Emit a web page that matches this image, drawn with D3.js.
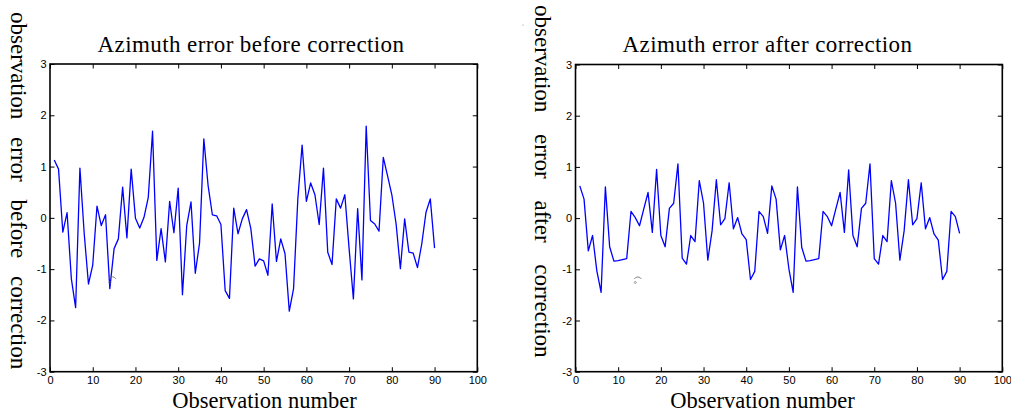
<!DOCTYPE html>
<html>
<head>
<meta charset="utf-8">
<script src="https://cdn.jsdelivr.net/npm/d3@7"></script>
<style>
  body { margin: 0; background: #fff; }
  svg { display: block; }
</style>
</head>
<body>
<div id="chart"></div>
<script>
// values, observation 1..90
var errBefore = [1.13, 0.95, -0.28, 0.10, -1.19, -1.75, 0.97, -0.30, -1.29, -0.92,
  0.23, -0.15, 0.06, -1.38, -0.60, -0.41, 0.60, -0.39, 0.95, -0.01,
  -0.20, 0.01, 0.40, 1.69, -0.83, -0.21, -0.86, 0.32, -0.29, 0.58,
  -1.50, -0.15, 0.31, -1.08, -0.49, 1.54, 0.63, 0.06, 0.04, -0.13,
  -1.42, -1.57, 0.19, -0.31, -0.02, 0.16, -0.21, -0.94, -0.80, -0.84,
  -1.12, 0.27, -0.85, -0.41, -0.70, -1.82, -1.38, 0.37, 1.42, 0.32,
  0.68, 0.45, -0.13, 0.97, -0.67, -0.91, 0.37, 0.19, 0.45, -0.60,
  -1.58, 0.18, -1.21, 1.79, -0.05, -0.12, -0.26, 1.18, 0.82, 0.45,
  -0.12, -0.99, -0.02, -0.67, -0.69, -0.97, -0.51, 0.11, 0.37, -0.59];

var errAfter = [0.63, 0.37, -0.64, -0.34, -1.03, -1.45, 0.61, -0.56, -0.84, -0.83,
  -0.81, -0.79, 0.13, 0.01, -0.15, 0.18, 0.50, -0.28, 0.95, -0.34,
  -0.56, 0.19, 0.29, 1.06, -0.78, -0.90, -0.34, -0.46, 0.73, 0.29,
  -0.82, -0.25, 0.75, -0.13, -0.01, 0.69, -0.21, 0.01, -0.31, -0.42,
  -1.20, -1.04, 0.13, 0.03, -0.30, 0.63, 0.37, -0.62, -0.34, -0.99,
  -1.45, 0.61, -0.57, -0.84, -0.83, -0.81, -0.79, 0.13, 0.03, -0.15,
  0.18, 0.50, -0.28, 0.94, -0.34, -0.56, 0.19, 0.29, 1.06, -0.79,
  -0.90, -0.34, -0.46, 0.73, 0.29, -0.82, -0.25, 0.75, -0.13, -0.01,
  0.69, -0.21, 0.01, -0.31, -0.43, -1.20, -1.04, 0.13, 0.03, -0.30];

var xTickVals = [0, 10, 20, 30, 40, 50, 60, 70, 80, 90, 100];
var yTickVals = [-3, -2, -1, 0, 1, 2, 3];
var titles = ["Azimuth error before correction", "Azimuth error after correction"];
var yLabels = ["observation error before correction", "observation error after correction"];
var xLabel = "Observation number";

var svg = d3.select("#chart")
  .append("svg")
    .attr("width", 1011)
    .attr("height", 414);

var panels = [
  {data: errBefore, title: titles[0], ylab: yLabels[0],
   left: 50, right: 477.3, top: 64, bottom: 371.7,
   titleX: 251, xlabX: 264.5, ylabX: 11, ylabY: 12, wordSp: 12},
  {data: errAfter, title: titles[1], ylab: yLabels[1],
   left: 575.5, right: 1002.3, top: 64.5, bottom: 371.7,
   titleX: 767.5, xlabX: 762.5, ylabX: 535, ylabY: 5, wordSp: 16}
];

// plain hyphen for negatives, like the original
var fmt = function (d) { return String(d); };

panels.forEach(function (p) {
  var x = d3.scaleLinear().domain([0, 100]).range([p.left, p.right]);
  var y = d3.scaleLinear().domain([-3, 3]).range([p.bottom, p.top]);
  var g = svg.append("g");

  // ticks on all four sides, pointing inward
  g.append("g")
    .attr("transform", "translate(0," + p.bottom + ")")
    .call(d3.axisBottom(x).tickValues(xTickVals).tickFormat(fmt).tickSizeInner(-4.5).tickSizeOuter(0).tickPadding(5))
    .call(function (a) { a.select(".domain").remove(); });
  g.append("g")
    .attr("transform", "translate(0," + p.top + ")")
    .call(d3.axisTop(x).tickValues(xTickVals).tickSizeInner(-4.5).tickSizeOuter(0).tickFormat(""))
    .call(function (a) { a.select(".domain").remove(); });
  g.append("g")
    .attr("transform", "translate(" + p.left + ",0)")
    .call(d3.axisLeft(y).tickValues(yTickVals).tickFormat(fmt).tickSizeInner(-4.5).tickSizeOuter(0).tickPadding(3.5))
    .call(function (a) { a.select(".domain").remove(); });
  g.append("g")
    .attr("transform", "translate(" + p.right + ",0)")
    .call(d3.axisRight(y).tickValues(yTickVals).tickSizeInner(-4.5).tickSizeOuter(0).tickFormat(""))
    .call(function (a) { a.select(".domain").remove(); });

  g.selectAll(".tick text")
    .attr("fill", "#000")
    .style("font-family", "'Liberation Sans', Arial, sans-serif")
    .style("font-size", "11px");
  g.selectAll(".tick line").attr("stroke", "#000");

  // frame
  g.append("rect")
    .attr("x", p.left).attr("y", p.top)
    .attr("width", p.right - p.left).attr("height", p.bottom - p.top)
    .attr("fill", "none").attr("stroke", "#000").attr("stroke-width", 1.6);

  // series
  var line = d3.line()
    .x(function (d, i) { return x(i + 1); })
    .y(function (d) { return y(d); });
  g.append("path")
    .datum(p.data)
    .attr("d", line)
    .attr("fill", "none")
    .attr("stroke", "#0000ff")
    .attr("stroke-width", 1.3)
    .attr("stroke-linejoin", "round");

  // little stray mark left in the figure
  var mx = x(14.6), my = y(-1.15);
  g.append("path")
    .attr("d", "M" + (mx - 3.5) + "," + (my + 2) + " A4,4 0 0 1 " + (mx + 3.5) + "," + (my + 2))
    .attr("fill", "none").attr("stroke", "#666").attr("stroke-width", 0.8);
  g.append("circle")
    .attr("cx", mx - 2.5).attr("cy", my + 5.5).attr("r", 1)
    .attr("fill", "none").attr("stroke", "#666").attr("stroke-width", 0.6);

  // texts
  g.append("text")
    .attr("x", p.titleX).attr("y", 52)
    .attr("text-anchor", "middle")
    .style("font-family", "'Liberation Serif', 'Times New Roman', serif")
    .style("font-size", "23px")
    .style("letter-spacing", "0.4px")
    .text(p.title);

  g.append("text")
    .attr("x", p.xlabX).attr("y", 408)
    .attr("text-anchor", "middle")
    .style("font-family", "'Liberation Serif', 'Times New Roman', serif")
    .style("font-size", "22.5px")
    .text(xLabel);

  g.append("text")
    .attr("transform", "translate(" + p.ylabX + "," + p.ylabY + ") rotate(90)")
    .style("font-family", "'Liberation Serif', 'Times New Roman', serif")
    .style("font-size", "23px")
    .style("word-spacing", p.wordSp + "px")
    .text(p.ylab);
});

// tiny speck near the right-hand label
svg.append("circle").attr("cx", 523).attr("cy", 25).attr("r", 0.6).attr("fill", "#888");
</script>
</body>
</html>
